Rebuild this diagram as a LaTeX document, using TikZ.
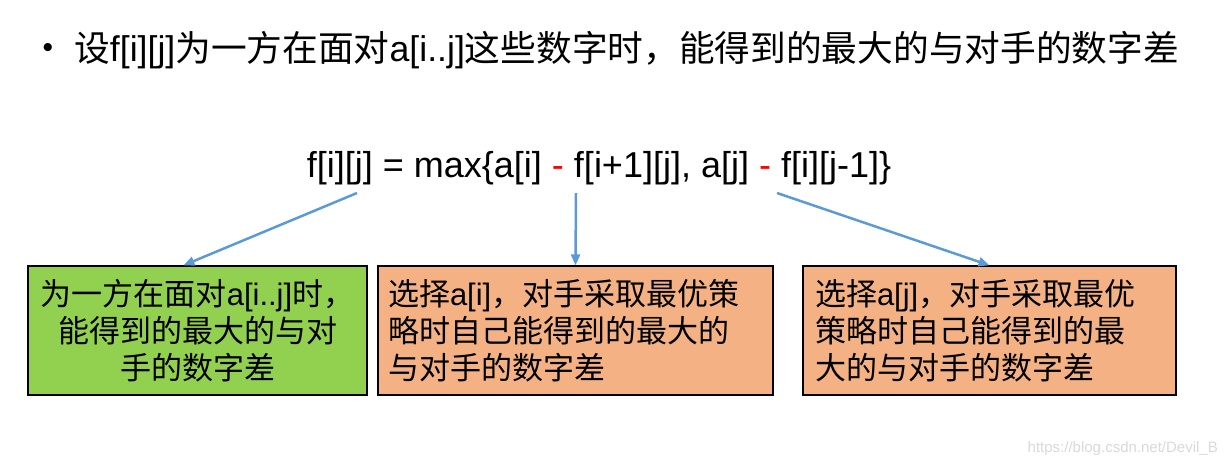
\documentclass[tikz,border=0pt]{standalone}
\usepackage{fontspec}
\setmainfont{Liberation Sans}
\newfontfamily\cjk{Noto Sans CJK SC}
\usetikzlibrary{arrows.meta}
\definecolor{boxgreen}{HTML}{92D050}
\definecolor{boxorange}{HTML}{F4B183}
\definecolor{arrowblue}{HTML}{5B9BD5}
\begin{document}
\begin{tikzpicture}[x=1pt, y=-1pt,
    txt/.style={inner sep=0pt, font=\cjk\fontsize{31}{37}\selectfont},
    box/.style={draw=black, line width=1.3pt, minimum height=129pt, inner xsep=10pt, inner ysep=0pt, font=\cjk\fontsize{31}{37}\selectfont},
    arr/.style={draw=arrowblue, line width=2.5pt, -{Triangle[length=11pt,width=9pt]}}]
        % page
        \useasboundingbox (0,0) rectangle (1229,467);
        % title line
        \node[inner sep=0pt, font=\fontsize{30}{36}\selectfont] (dot) at (48,50) {•};
        \node[txt, anchor=west, font=\cjk\fontsize{35.7}{42}\selectfont] (title) at (74,50) {设\textrm{f[i][j]}为一方在面对\textrm{a[i..j]}这些数字时，能得到的最大的与对手的数字差};
        % recurrence
        \node[inner sep=0pt, font=\fontsize{36}{42}\selectfont] (eq) at (599,168) {f[i][j] = max\{a[i] \textcolor{red}{-} f[i+1][j], a[j] \textcolor{red}{-} f[i][j-1]\}};
        % three boxes
        \node[box, fill=boxgreen, text width=319pt, align=center] (whole) at (197.5,330.5) {为一方在面对\textrm{a[i..j]}时，\\能得到的最大的与对\\手的数字差};
        \node[box, fill=boxorange, text width=375pt, align=left] (left) at (575.5,330.5) {选择\textrm{a[i]}，对手采取最优策\\略时自己能得到的最大的\\与对手的数字差};
        \node[box, fill=boxorange, text width=349pt, inner xsep=12pt, align=left] (right) at (989.5,330.5) {选择\textrm{a[j]}，对手采取最优\\策略时自己能得到的最\\大的与对手的数字差};
        \coordinate (t1) at (357,193);
        \coordinate (t2) at (576,193);
        \coordinate (t3) at (777,193);
        \draw[arr] (t1) -- ([xshift=-14pt]whole.north);
        \draw[arr] (t2) -- (left.north);
        \draw[arr] (t3) -- (right.north);
        % watermark
        \node[inner sep=0pt, anchor=east, text=black!15, font=\fontsize{15}{18}\selectfont] (mark) at (1218,449) {https://blog.csdn.net/Devil\_B};
    \end{tikzpicture}
\end{document}
